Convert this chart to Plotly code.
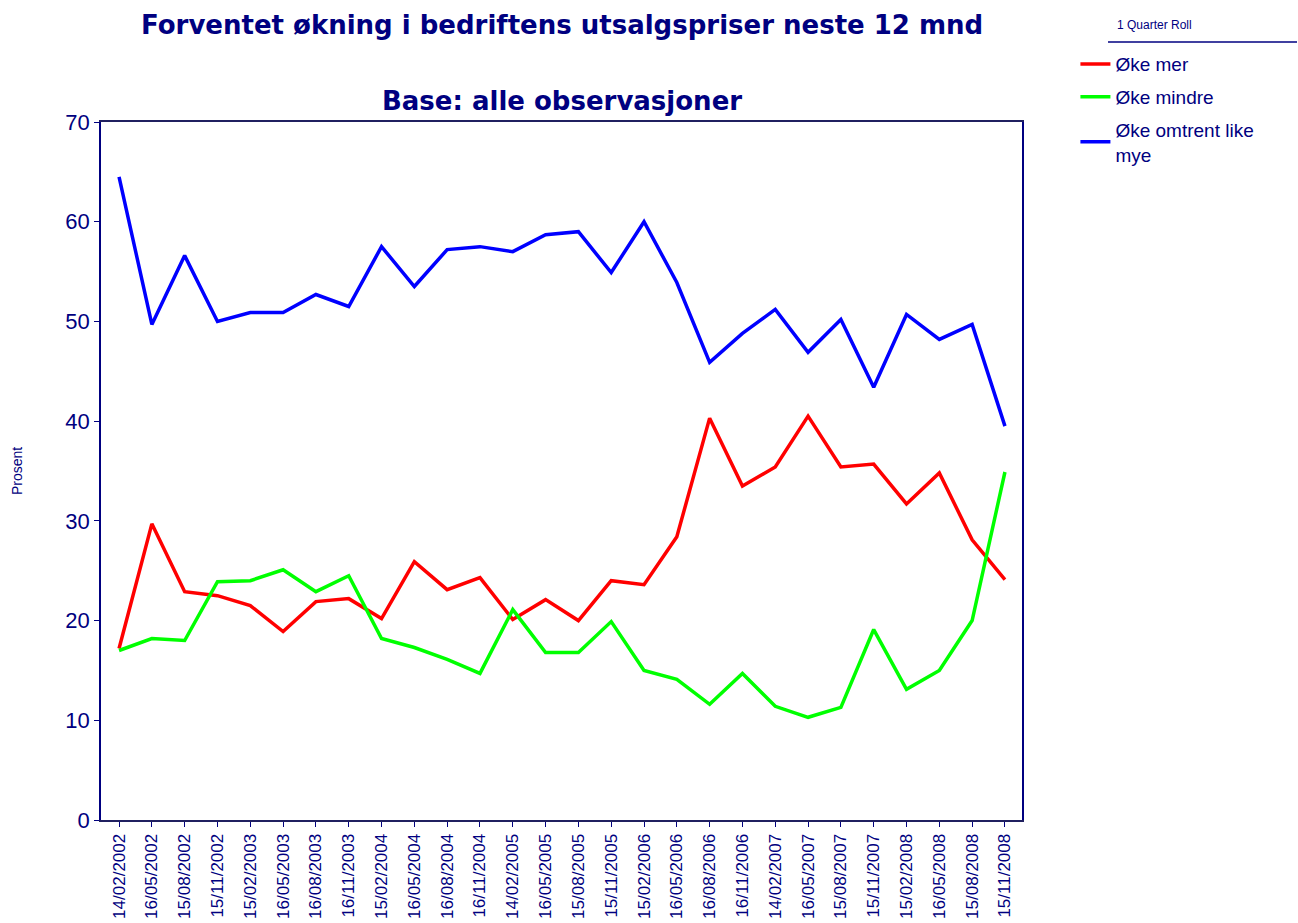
import plotly.graph_objects as go

dates = ["14/02/2002", "16/05/2002", "15/08/2002", "15/11/2002", "15/02/2003", "16/05/2003",
         "16/08/2003", "16/11/2003", "15/02/2004", "16/05/2004", "16/08/2004", "16/11/2004",
         "14/02/2005", "16/05/2005", "15/08/2005", "15/11/2005", "15/02/2006", "16/05/2006",
         "16/08/2006", "16/11/2006", "14/02/2007", "16/05/2007", "15/08/2007", "15/11/2007",
         "15/02/2008", "16/05/2008", "15/08/2008", "15/11/2008"]

oke_mer = [17.2, 29.7, 22.9, 22.5, 21.5, 18.9, 21.9, 22.2, 20.2, 25.9, 23.1, 24.3, 20.1, 22.1,
           20.0, 24.0, 23.6, 28.4, 40.3, 33.5, 35.4, 40.5, 35.4, 35.7, 31.7, 34.8, 28.1, 24.1]
oke_mindre = [17.0, 18.2, 18.0, 23.9, 24.0, 25.1, 22.9, 24.5, 18.2, 17.3, 16.1, 14.7, 21.1, 16.8,
              16.8, 19.9, 15.0, 14.1, 11.6, 14.7, 11.4, 10.3, 11.3, 19.1, 13.1, 15.0, 20.0, 34.9]
oke_like = [64.5, 49.7, 56.6, 50.0, 50.9, 50.9, 52.7, 51.5, 57.5, 53.5, 57.2, 57.5, 57.0, 58.7,
            59.0, 54.9, 60.0, 53.9, 45.9, 48.8, 51.2, 46.9, 50.2, 43.4, 50.7, 48.2, 49.7, 39.5]

series_names = ["Øke mer", "Øke mindre", "Øke omtrent like<br>mye"]
colors = ["#FF0000", "#00FF00", "#0000FF"]
NAVY = "#000080"
FONT = "Arial, Liberation Sans, sans-serif"
TITLE_FONT = "DejaVu Sans, Arial, sans-serif"

fig = go.Figure()
for i, (name, vals, col) in enumerate(zip(series_names, [oke_mer, oke_mindre, oke_like], colors)):
    fig.add_trace(go.Scatter(x=list(range(len(dates))), y=vals, mode="lines", name=name,
                             legendgroup=f"g{i}",
                             line=dict(color=col, width=3.5)))

fig.update_layout(
    width=1298, height=923,
    margin=dict(l=101, r=276, t=122, b=103),
    paper_bgcolor="white", plot_bgcolor="white",
    font=dict(family=FONT, color=NAVY),
    showlegend=True,
    legend=dict(x=1.058, y=1.110, xanchor="left", yanchor="top",
                font=dict(size=19, color=NAVY, family=FONT),
                bgcolor="rgba(0,0,0,0)", tracegroupgap=5),
    xaxis=dict(
        tickmode="array", tickvals=list(range(len(dates))), ticktext=dates,
        tickangle=-90, tickfont=dict(size=17, color=NAVY, family=FONT),
        range=[-0.55, 27.52], showgrid=False, zeroline=False,
        showline=True, linecolor="#202060", linewidth=2, mirror=True,
        ticks="outside", ticklen=5, tickcolor=NAVY, automargin=False,
    ),
    yaxis=dict(
        range=[0, 70], tickvals=[0, 10, 20, 30, 40, 50, 60, 70],
        tickfont=dict(size=22, color=NAVY, family=FONT),
        showgrid=False, zeroline=False,
        showline=True, linecolor=NAVY, linewidth=1.5, mirror=True,
        ticks="outside", ticklen=5, tickcolor=NAVY, automargin=False,
        title=dict(text="Prosent", font=dict(size=14, color=NAVY, family=FONT), standoff=39),
    ),
)

fig.add_annotation(text="<b>Forventet økning i bedriftens utsalgspriser neste 12 mnd</b>",
                   xref="paper", yref="paper", x=0.5, y=1.139, xanchor="center", yanchor="middle",
                   showarrow=False, font=dict(size=26, color=NAVY, family=TITLE_FONT))
fig.add_annotation(text="<b>Base: alle observasjoner</b>",
                   xref="paper", yref="paper", x=0.5, y=1.030, xanchor="center", yanchor="middle",
                   showarrow=False, font=dict(size=26, color=NAVY, family=TITLE_FONT))
fig.add_annotation(text="1 Quarter Roll",
                   xref="paper", yref="paper", x=1.101, y=1.139, xanchor="left", yanchor="middle",
                   showarrow=False, font=dict(size=12, color=NAVY, family=FONT))
fig.add_shape(type="line", xref="paper", yref="paper", x0=1.0934, x1=1.2986, y0=1.1146, y1=1.1146,
              line=dict(color=NAVY, width=1.5))

fig.write_html("out.html", config={"displayModeBar": False},
               post_script="document.body.style.margin='0';")
